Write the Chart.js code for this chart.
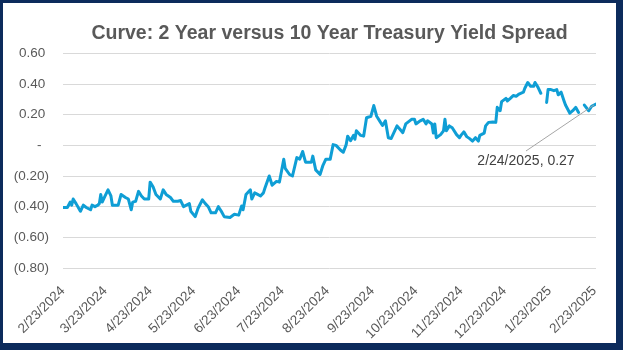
<!DOCTYPE html>
<html>
<head>
<meta charset="utf-8">
<script src="https://cdn.jsdelivr.net/npm/chart.js@4"></script>
<style>
  html, body { margin: 0; padding: 0; background: #fff; }
  #frame {
    position: absolute; left: 0; top: 0;
    width: 623px; height: 350px; box-sizing: border-box;
    border-style: solid; border-color: #0c2b5c; border-width: 3px 7px 7px 3px;
    background: #fff;
  }
  #frame canvas { display: block; }
</style>
</head>
<body>
<div id="frame"><canvas id="chart" width="613" height="340"></canvas></div>
<script>
// days since 2/23/2024 and the 10y-2y spread (null = holiday gap)
const dayOffsets = [
  0, 3, 5, 6, 7, 9, 12, 14, 16, 19, 20, 22, 24, 25, 26, 27, 29, 31, 33, 34,
  36, 38, 40, 43, 45, 47, 48, 50, 52, 54, 56, 59, 60, 62, 64, 67, 69, 71, 74, 76,
  79, 81, 83, 85, 87, 88, 91, 93, 96, 98, 100, 102, 105, 107, 109, 111, 115, 118, 121, 123,
  124, 126, 129, 130, 132, 134, 136, 138, 139, 142, 144, 147, 149, 152, 153, 156, 158, 161, 163, 165,
  167, 171, 172, 174, 177, 179, 181, 184, 186, 188, 191, 193, 195, 196, 198, 200, 201, 202, 205, 207,
  209, 212, 214, 216, 218, 220, 222, 224, 226, 230, 232, 234, 236, 240, 242, 243, 246, 248, 250, 251,
  254, 255, 256, 257, 260, 262, 263, 264, 266, 268, 271, 273, 274, 276, 278, 280, 282, 284, 286, 287,
  290, 291, 293, 296, 298, 299, 301, 302, 305, 306, 308, 310, 312, 314, 317, 318, 320, 322, 324, 325,
  327, 329, 332, 333, 334, 336, 338, 340, 341, 343, 345, 346, 349, 351, 353, 355, 357, 359, 362, 364,
  367
];
const spreadValues = [
  -0.405, -0.405, -0.37, -0.39, -0.35, -0.38, -0.43, -0.39, -0.405, -0.42, -0.39, -0.40, -0.39, -0.38, -0.32, -0.37, -0.33, -0.29, -0.33, -0.39,
  -0.39, -0.39, -0.32, -0.34, -0.35, -0.42, -0.37, -0.365, -0.30, -0.33, -0.35, -0.35, -0.24, -0.27, -0.32, -0.35, -0.29, -0.32, -0.34, -0.365,
  -0.365, -0.36, -0.40, -0.39, -0.38, -0.43, -0.465, -0.41, -0.355, -0.38, -0.40, -0.44, -0.44, -0.40, -0.43, -0.465, -0.47, -0.45, -0.455, -0.395,
  -0.42, -0.32, -0.29, -0.35, -0.31, -0.32, -0.33, -0.31, -0.28, -0.20, -0.26, -0.235, -0.24, -0.09, -0.15, -0.19, -0.20, -0.08, -0.09, -0.04,
  -0.11, -0.11, -0.07, -0.16, -0.19, -0.13, -0.09, -0.09, 0.005, 0.0, -0.03, -0.045, 0.005, 0.06, 0.03, 0.065, 0.04, 0.095, 0.065, 0.06,
  0.18, 0.19, 0.26, 0.19, 0.16, 0.13, 0.16, 0.05, 0.045, 0.127, 0.105, 0.083, 0.14, 0.17, 0.17, 0.14, 0.16, 0.17, 0.14, 0.16,
  0.14, 0.08, 0.14, 0.05, 0.07, 0.095, 0.17, 0.095, 0.127, 0.115, 0.07, 0.05, 0.065, 0.088, 0.057, 0.044, 0.028, 0.05, 0.028, 0.065,
  0.08, 0.127, 0.15, 0.153, 0.15, 0.248, 0.226, 0.285, 0.307, 0.29, 0.307, 0.325, 0.32, 0.335, 0.347, 0.373, 0.41, 0.385, 0.385, 0.41,
  0.38, 0.34, null, 0.28, 0.364, 0.364, 0.357, 0.364, 0.33, 0.347, 0.29, 0.263, 0.21, 0.226, 0.248, 0.215, null, 0.263, 0.226, 0.255,
  0.27
];
const tickDays = [0, 29, 60, 90, 121, 151, 182, 213, 243, 274, 304, 335, 366];
const tickLabels = [
  '2/23/2024', '3/23/2024', '4/23/2024', '5/23/2024', '6/23/2024', '7/23/2024', '8/23/2024',
  '9/23/2024', '10/23/2024', '11/23/2024', '12/23/2024', '1/23/2025', '2/23/2025'
];
const titleText = 'Curve: 2 Year versus 10 Year Treasury Yield Spread';
const lastPointLabel = '2/24/2025, 0.27';

const FONT = "'Liberation Sans', Arial, sans-serif";

function fmtAcct(v) {
  if (Math.abs(v) < 1e-9) return '-  ';
  if (v < 0) return '(' + Math.abs(v).toFixed(2) + ')';
  return v.toFixed(2) + ' ';
}

const lastLabelPlugin = {
  id: 'lastLabel',
  afterDatasetsDraw(chart) {
    const meta = chart.getDatasetMeta(0);
    const pt = meta.data[meta.data.length - 1];
    const ctx = chart.ctx;
    const tx = pt.x - 70, ty = pt.y + 57;
    ctx.save();
    ctx.strokeStyle = '#a6a6a6';
    ctx.lineWidth = 1;
    ctx.beginPath();
    ctx.moveTo(pt.x - 2, pt.y + 1);
    ctx.lineTo(tx, ty - 10);
    ctx.stroke();
    ctx.font = '14px ' + FONT;
    ctx.fillStyle = '#404040';
    ctx.textAlign = 'center';
    ctx.textBaseline = 'middle';
    ctx.fillText(lastPointLabel, tx, ty);
    ctx.restore();
  }
};

new Chart(document.getElementById('chart'), {
  type: 'line',
  data: {
    datasets: [{
      data: dayOffsets.map((d, i) => ({ x: d, y: spreadValues[i] })),
      borderColor: '#0f9ed5',
      borderWidth: 3,
      borderJoinStyle: 'round',
      borderCapStyle: 'round',
      pointRadius: 0,
      tension: 0,
      spanGaps: false,
    }],
  },
  options: {
    responsive: false,
    animation: false,
    layout: { padding: { left: 0, right: 20, top: 0, bottom: 0 } },
    plugins: {
      legend: { display: false },
      tooltip: { enabled: false },
      title: {
        display: true,
        text: titleText,
        fullSize: false,
        color: '#595959',
        font: { family: FONT, size: 19.5, weight: 'bold' },
        padding: { top: 19, bottom: 8 },
      },
    },
    scales: {
      x: {
        type: 'linear',
        min: 0,
        max: 367,
        afterBuildTicks: (s) => { s.ticks = tickDays.map((v) => ({ value: v })); },
        afterFit: (s) => { s.height = 75; },
        grid: { display: false },
        border: { display: false },
        ticks: {
          autoSkip: false,
          maxRotation: 45,
          minRotation: 45,
          padding: 7,
          color: '#595959',
          font: { family: FONT, size: 13.5 },
          callback: (v) => tickLabels[tickDays.indexOf(v)],
        },
      },
      y: {
        min: -0.8,
        max: 0.6,
        afterFit: (s) => { s.width = 60; },
        grid: { color: '#d9d9d9', lineWidth: 1, drawTicks: false },
        border: { display: false },
        ticks: {
          stepSize: 0.2,
          padding: 14,
          color: '#595959',
          font: { family: FONT, size: 13.5 },
          callback: (v) => fmtAcct(v),
        },
      },
    },
  },
  plugins: [lastLabelPlugin],
});
</script>
</body>
</html>
